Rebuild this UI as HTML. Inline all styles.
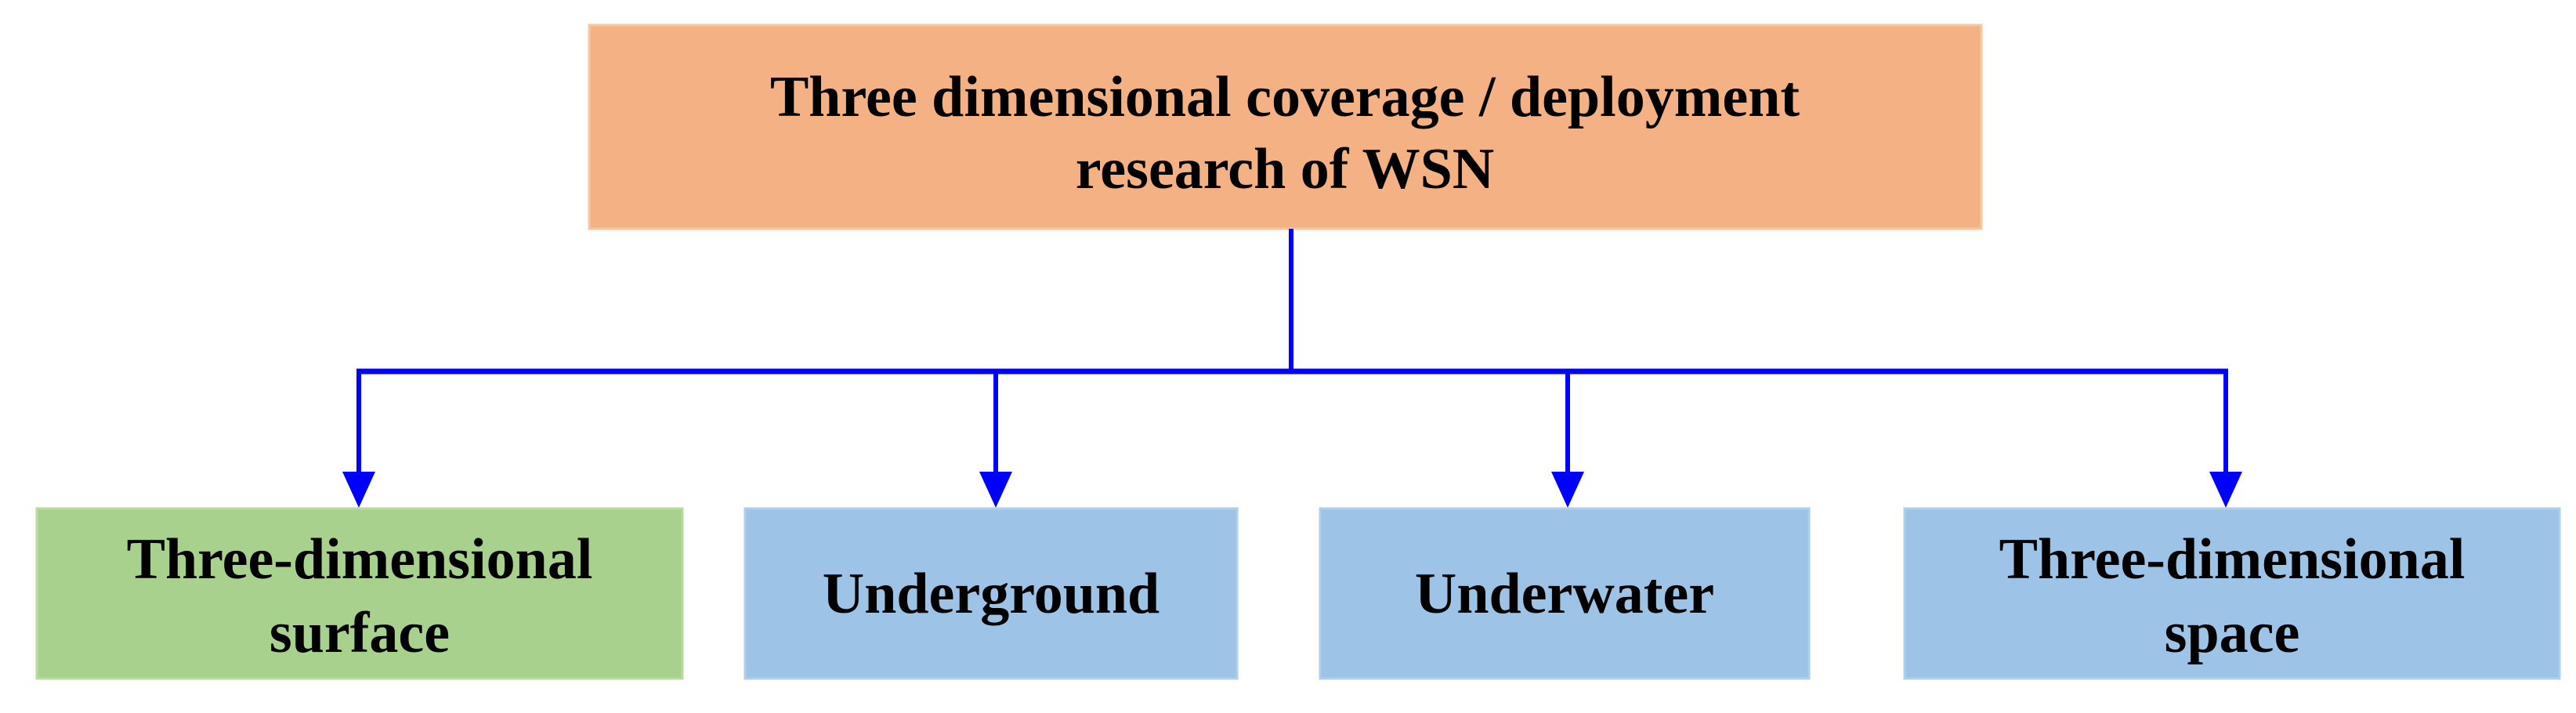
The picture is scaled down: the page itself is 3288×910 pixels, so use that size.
<!DOCTYPE html>
<html><head><meta charset="utf-8"><style>
html,body{margin:0;padding:0;background:#fff;}
svg{display:block;}
text{font-family:"Liberation Serif","Times New Roman",serif;font-weight:bold;fill:#000;text-anchor:middle;}
</style></head><body>
<svg width="3288" height="910" viewBox="0 0 3288 910" xmlns="http://www.w3.org/2000/svg">
<rect x="0" y="0" width="3288" height="910" fill="#fff"/>
<rect x="752" y="32" width="1777" height="260" fill="#F4B183" stroke="#F8C6A0" stroke-width="3"/>
<text x="1640" y="148" font-size="74">Three dimensional coverage / deployment</text>
<text x="1640" y="240" font-size="74">research of WSN</text>
<g stroke="#0000FF" fill="none">
<line x1="1648" y1="292" x2="1648" y2="475" stroke-width="6"/>
<line x1="455" y1="474" x2="2844" y2="474" stroke-width="7"/>
<line x1="458" y1="471" x2="458" y2="610" stroke-width="6"/>
<line x1="1271" y1="471" x2="1271" y2="610" stroke-width="6"/>
<line x1="2001" y1="471" x2="2001" y2="610" stroke-width="6"/>
<line x1="2841" y1="471" x2="2841" y2="610" stroke-width="6"/>
</g>
<g fill="#0000FF">
<polygon points="437,602 479,602 458,648"/>
<polygon points="1250,602 1292,602 1271,648"/>
<polygon points="1980,602 2022,602 2001,648"/>
<polygon points="2820,602 2862,602 2841,648"/>
</g>
<rect x="47" y="649" width="824" height="217" fill="#A9D18E" stroke="#B8DBA0" stroke-width="3"/>
<rect x="951" y="649" width="628" height="217" fill="#9DC3E6" stroke="#AECFEC" stroke-width="3"/>
<rect x="1685" y="649" width="624" height="217" fill="#9DC3E6" stroke="#AECFEC" stroke-width="3"/>
<rect x="2431" y="649" width="836" height="217" fill="#9DC3E6" stroke="#AECFEC" stroke-width="3"/>
<text x="459" y="738" font-size="74">Three-dimensional</text>
<text x="459" y="832" font-size="74">surface</text>
<text x="1265" y="782" font-size="74">Underground</text>
<text x="1997" y="782" font-size="74">Underwater</text>
<text x="2849" y="738" font-size="74">Three-dimensional</text>
<text x="2849" y="832" font-size="74">space</text>
</svg>
</body></html>
